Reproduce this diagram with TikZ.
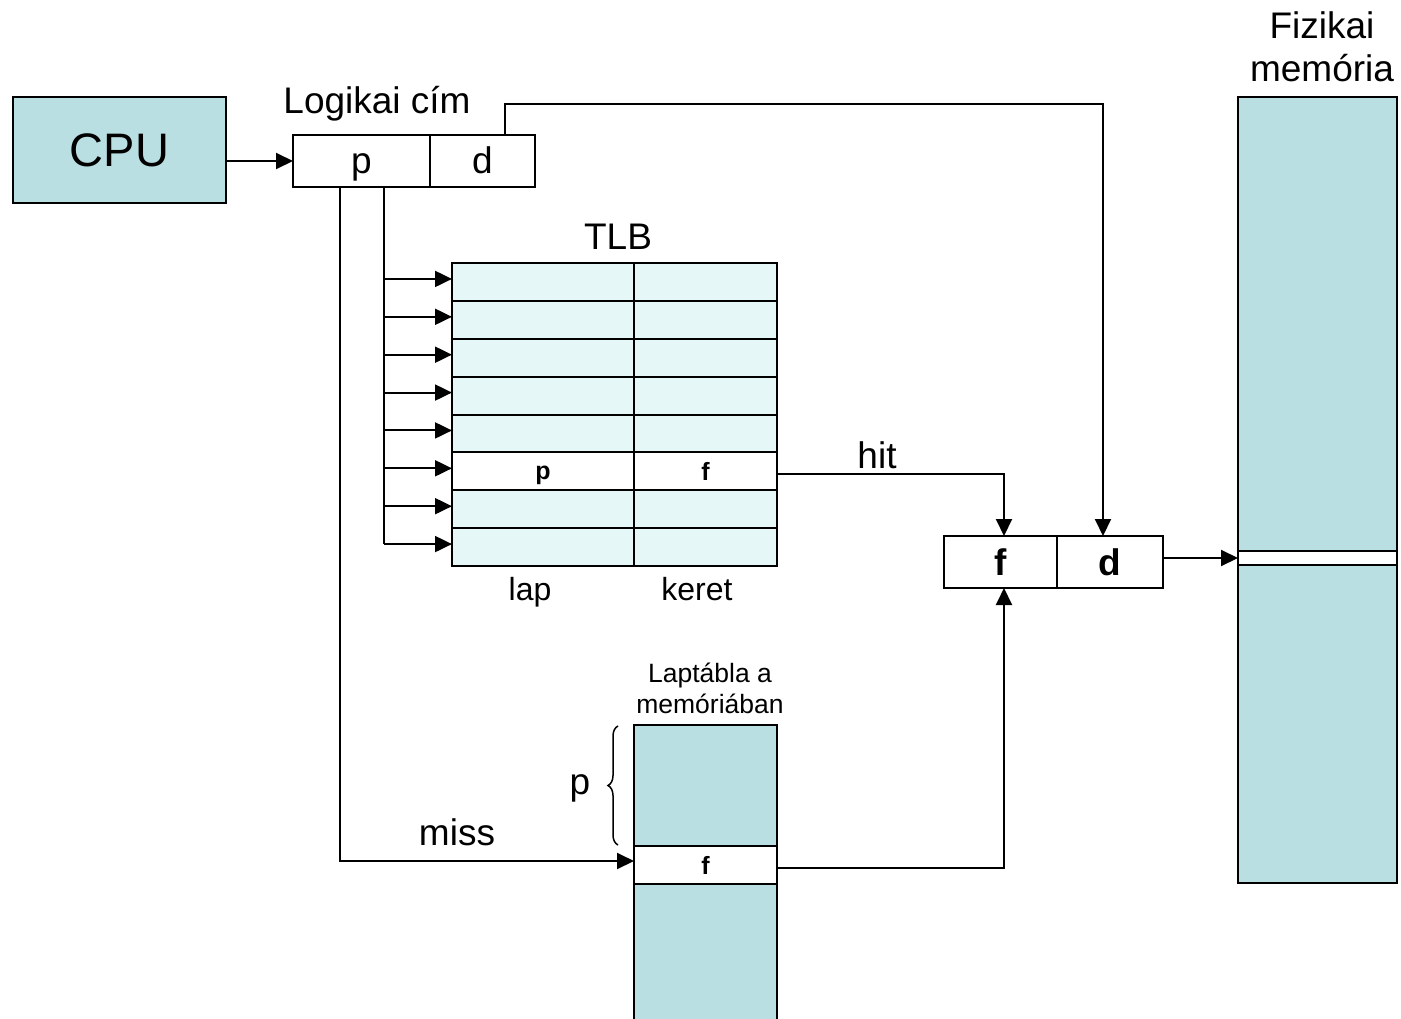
\documentclass[tikz,border=0pt]{standalone}
\usepackage{fontspec}
\setmainfont{Liberation Sans}
\usetikzlibrary{arrows.meta,decorations.pathreplacing}
\definecolor{tealfill}{RGB}{185,223,226}
\definecolor{tlbfill}{RGB}{230,247,247}
\begin{document}
\begin{tikzpicture}[x=1pt,y=-1pt,line width=2pt,
  box/.style={draw=black,line width=2pt,inner sep=0pt,outer sep=0pt},
  arr/.style={-{Triangle[length=17pt,width=16pt]},line width=2pt},
  lbl/.style={inner sep=0pt,anchor=base,font=\fontsize{37}{44}\selectfont},
  smalllbl/.style={inner sep=0pt,anchor=base,font=\fontsize{26.5}{30}\selectfont},
  midlbl/.style={inner sep=0pt,anchor=base,font=\fontsize{32}{38}\selectfont},
  boldlbl/.style={inner sep=0pt,anchor=base,font=\bfseries\fontsize{37}{44}\selectfont},
  boldsmall/.style={inner sep=0pt,anchor=base,font=\bfseries\fontsize{25}{29}\selectfont},
]
\useasboundingbox (0,0) rectangle (1401,1018);
\clip (0,0) rectangle (1401,1018);
\fill[white] (0,0) rectangle (1401,1018);

% CPU
\node[box,fill=tealfill,minimum width=213,minimum height=106] (cpu) at (119.5,150) {};
\node[inner sep=0pt,anchor=base,font=\fontsize{47}{54}\selectfont] (cputxt) at (119.5,166) {CPU};

% logical address
\node[box,minimum width=137,minimum height=52] (pcell) at (361.5,161) {};
\node[box,minimum width=105,minimum height=52] (dcell) at (482.5,161) {};
\node[lbl] (ptxt) at (361.5,173) {p};
\node[lbl] (dtxt) at (482.5,173) {d};
\node[lbl] (logtxt) at (377,113) {Logikai cím};
\draw[arr] (cpu.east |- pcell.west) -- (pcell.west);

% TLB
\foreach \i in {1,...,8} {
  \pgfmathsetmacro\yc{263+(\i-0.5)*37.875}
  \ifnum\i=6 \def\fc{white}\else\def\fc{tlbfill}\fi
  \node[box,fill=\fc,minimum width=182,minimum height=37.875] (tl\i) at (543,\yc) {};
  \node[box,fill=\fc,minimum width=143,minimum height=37.875] (tr\i) at (705.5,\yc) {};
}
\node[boldsmall] (tlbp) at (543,479) {p};
\node[boldsmall] (tlbf) at (705.5,480) {f};
\node[lbl] (tlbtxt) at (618,249) {TLB};
\node[midlbl] (laptxt) at (530,600) {lap};
\node[midlbl] (kerettxt) at (697,600) {keret};

\coordinate (trunk) at (384,187);
\draw (pcell.south -| trunk) -- ([yshift=3pt]tl8.west -| trunk);
\foreach \i in {1,...,8} {
  \draw[arr] ([yshift=3pt]tl\i.west -| trunk) -- ([yshift=3pt]tl\i.west);
}

% physical memory
\node[box,fill=tealfill,minimum width=159,minimum height=786] (mem) at (1317.5,490) {};
\node[box,fill=white,minimum width=159,minimum height=14] (memrow) at (1317.5,558) {};
\node[lbl] (fiztxt) at (1322,38) {Fizikai};
\node[lbl] (memtxt) at (1322,81) {memória};

% f d box
\node[box,minimum width=113,minimum height=52] (fcell) at (1000.5,562) {};
\node[box,minimum width=106,minimum height=52] (dcell2) at (1110,562) {};
\node[boldlbl] (ftxt) at (1000.5,575) {f};
\node[boldlbl] (d2txt) at (1110,575) {d};
\draw[arr] (dcell2.east |- memrow.west) -- (memrow.west);

% d path
\coordinate (dtop) at (1103,104);
\draw[arr] ([xshift=22.5pt]dcell.north) |- (dtop) -- (dtop |- dcell2.north);

% hit path
\draw[arr] ([yshift=-3pt]tr6.east) -| ([xshift=3.5pt]fcell.north);
\node[lbl] (hittxt) at (877,468) {hit};

% page table
\node[box,fill=tealfill,minimum width=143,minimum height=121] (pt1) at (705.5,785.5) {};
\node[box,fill=white,minimum width=143,minimum height=38] (pt2) at (705.5,865) {};
\node[box,fill=tealfill,minimum width=143,minimum height=160] (pt3) at (705.5,964) {};
\node[boldsmall] (ptf) at (705.5,874) {f};
\node[smalllbl] (pttxt1) at (710,682) {Laptábla a};
\node[smalllbl] (pttxt2) at (710,713) {memóriában};
\draw[line width=1.5pt,decorate,decoration={brace,amplitude=10pt}] (618,845) -- (618,726);
\node[lbl] (bracep) at (580,794) {p};

% miss path
\coordinate (missx) at (340,861);
\draw[arr] ([xshift=-21.5pt]pcell.south) -- (missx) -- (missx -| pt2.west);
\node[lbl] (misstxt) at (457,845) {miss};
\draw[arr] ([yshift=-3pt]pt2.east) -| ([xshift=3.5pt]fcell.south);
\end{tikzpicture}
\end{document}
